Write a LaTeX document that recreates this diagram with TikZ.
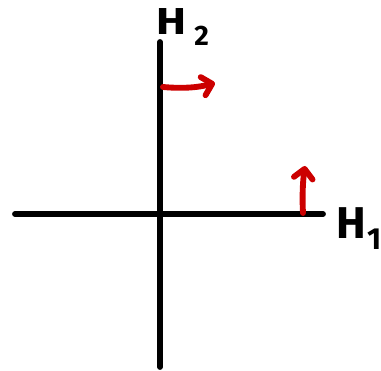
\documentclass[tikz,border=0pt]{standalone}
\usepackage{fontspec}
\setmainfont{Fira Sans}
\usetikzlibrary{arrows.meta}

\definecolor{penred}{RGB}{204,0,0}

\tikzset{
  axis/.style={line width=5pt, line cap=round},
  move/.style={penred, line width=5pt, line cap=round,
    -{Straight Barb[length=8pt, width=16pt, line cap=round, round]}},
  lab/.style={inner sep=0pt, font=\bfseries\fontsize{32}{32}\selectfont}
}

\begin{document}
\begin{tikzpicture}[x=0.03cm, y=-0.03cm]
  \useasboundingbox (0,0) rectangle (381,371);

  % axes
  \coordinate (top) at (160,42);
  \coordinate (bot) at (160,367);
  \coordinate (lft) at (15,214);
  \coordinate (rgt) at (323,214);
  \draw[axis] (top) -- (bot);
  \draw[axis] (lft) -- (rgt);

  % labels
  \node[lab, anchor=base west] (h2) at (156,35)
    {\scalebox{1.2}[1]{H}\hspace{7pt}\raisebox{-9pt}{\fontsize{24}{24}\selectfont 2}};
  \node[lab, anchor=base west, font=\bfseries\fontsize{38}{38}\selectfont] (h1) at (336,239)
    {H\hspace{1pt}\raisebox{-9pt}{\fontsize{26}{26}\selectfont 1}};

  % red arrows
  \coordinate (a1) at (163,87);
  \coordinate (b1) at (215,83);
  \draw[move] (a1) .. controls (185,89) and (200,87) .. (b1);
  \coordinate (a2) at (303,213);
  \coordinate (b2) at (305,166);
  \draw[move] (a2) .. controls (302,195) and (303,180) .. (b2);
\end{tikzpicture}
\end{document}
